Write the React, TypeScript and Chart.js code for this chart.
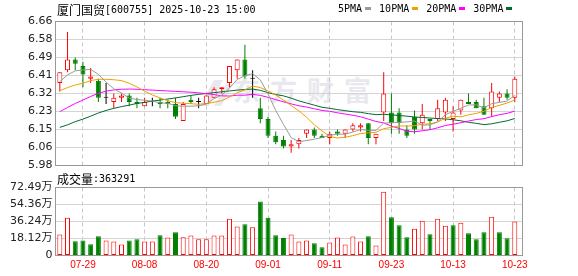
import React, { useEffect, useRef } from "react";
import { Chart, registerables } from "chart.js";
Chart.register(...registerables);

// ---- data ----
const dates = [
  "07-24","07-25","07-28","07-29","07-30","07-31","08-01","08-04","08-05","08-06",
  "08-07","08-08","08-11","08-12","08-13","08-14","08-15","08-18","08-19","08-20",
  "08-21","08-22","08-25","08-26","08-27","08-28","08-29","09-01","09-02","09-03",
  "09-04","09-05","09-08","09-09","09-10","09-11","09-12","09-15","09-16","09-17",
  "09-18","09-19","09-22","09-23","09-24","09-25","09-26","09-29","09-30","10-09",
  "10-10","10-13","10-14","10-15","10-16","10-17","10-20","10-21","10-22","10-23",
];
const opens = [
  6.37,6.43,6.48,6.45,6.39,6.38,6.30,6.28,6.30,6.31,
  6.28,6.26,6.28,6.28,6.28,6.27,6.19,6.29,6.28,6.27,
  6.30,6.34,6.37,6.43,6.48,6.39,6.25,6.20,6.12,6.10,
  6.07,6.08,6.13,6.15,6.12,6.11,6.14,6.13,6.15,6.16,
  6.18,6.11,6.23,6.23,6.23,6.15,6.21,6.18,6.20,6.20,
  6.23,6.20,6.24,6.28,6.28,6.26,6.25,6.30,6.32,6.30,
];
const highs = [
  6.42,6.61,6.49,6.47,6.44,6.39,6.37,6.32,6.32,6.32,
  6.30,6.30,6.30,6.30,6.29,6.30,6.28,6.31,6.30,6.31,
  6.35,6.35,6.45,6.48,6.55,6.43,6.30,6.21,6.14,6.12,
  6.10,6.11,6.15,6.16,6.13,6.14,6.15,6.15,6.18,6.18,
  6.18,6.13,6.42,6.32,6.25,6.17,6.24,6.27,6.20,6.29,
  6.30,6.26,6.29,6.32,6.29,6.30,6.37,6.33,6.34,6.40,
];
const lows = [
  6.33,6.42,6.43,6.35,6.37,6.28,6.27,6.25,6.28,6.26,
  6.25,6.26,6.26,6.25,6.25,6.20,6.19,6.27,6.25,6.27,
  6.30,6.32,6.35,6.39,6.39,6.30,6.18,6.11,6.08,6.06,
  6.04,6.06,6.11,6.11,6.11,6.08,6.12,6.11,6.14,6.14,
  6.08,6.08,6.19,6.13,6.13,6.11,6.13,6.15,6.15,6.19,
  6.19,6.14,6.22,6.27,6.25,6.22,6.21,6.28,6.29,6.28,
];
const closes = [
  6.42,6.48,6.46,6.41,6.40,6.30,6.30,6.30,6.31,6.28,
  6.27,6.28,6.28,6.27,6.27,6.21,6.27,6.28,6.28,6.31,
  6.34,6.35,6.45,6.48,6.40,6.39,6.20,6.12,6.09,6.07,
  6.08,6.10,6.15,6.12,6.11,6.13,6.13,6.15,6.17,6.17,
  6.11,6.13,6.32,6.18,6.18,6.12,6.15,6.22,6.19,6.25,
  6.29,6.23,6.29,6.27,6.25,6.22,6.33,6.32,6.30,6.39,
];
const ma5 = [
  6.376,6.408,6.427,6.431,6.434,6.41,6.374,6.342,6.322,6.298,
  6.292,6.288,6.284,6.276,6.274,6.262,6.26,6.26,6.262,6.27,
  6.296,6.312,6.346,6.386,6.404,6.414,6.384,6.318,6.24,6.174,
  6.112,6.092,6.098,6.104,6.112,6.122,6.128,6.128,6.138,6.15,
  6.146,6.146,6.18,6.182,6.184,6.186,6.19,6.17,6.172,6.186,
  6.22,6.236,6.25,6.266,6.266,6.252,6.272,6.278,6.284,6.312,
];
const ma10 = [
  6.333,6.348,6.36,6.368,6.381,6.387,6.387,6.385,6.381,6.368,
  6.351,6.331,6.313,6.299,6.286,6.277,6.274,6.272,6.269,6.272,
  6.279,6.286,6.303,6.324,6.337,6.355,6.348,6.332,6.313,6.289,
  6.263,6.238,6.208,6.172,6.143,6.117,6.11,6.113,6.121,6.131,
  6.134,6.137,6.154,6.16,6.167,6.166,6.168,6.175,6.177,6.185,
  6.203,6.213,6.21,6.219,6.226,6.236,6.254,6.264,6.275,6.289,
];
const ma20 = [
  6.234,6.254,6.273,6.289,6.306,6.321,6.331,6.337,6.34,6.341,
  6.34,6.338,6.336,6.334,6.332,6.33,6.328,6.326,6.323,6.319,
  6.315,6.309,6.308,6.312,6.312,6.316,6.311,6.302,6.291,6.281,
  6.271,6.262,6.256,6.248,6.24,6.236,6.229,6.223,6.217,6.21,
  6.199,6.188,6.181,6.166,6.155,6.142,6.139,6.144,6.149,6.158,
  6.169,6.175,6.182,6.19,6.197,6.201,6.211,6.22,6.226,6.237,
];
const ma30 = [
  6.16,6.172,6.187,6.199,6.213,6.228,6.24,6.25,6.258,6.265,
  6.273,6.278,6.284,6.289,6.294,6.299,6.305,6.311,6.316,6.32,
  6.324,6.328,6.332,6.336,6.339,6.341,6.335,6.324,6.315,6.309,
  6.298,6.285,6.275,6.265,6.255,6.25,6.244,6.239,6.234,6.231,
  6.225,6.22,6.222,6.219,6.216,6.213,6.209,6.207,6.204,6.202,
  6.2,6.196,6.191,6.184,6.179,6.173,6.177,6.184,6.191,6.202,
];
// volume in 万 (10k lots)
const volumes = [
  22.3,40.3,15.2,15.9,12.0,20.5,15.9,14.9,11.7,15.9,
  17.3,14.9,14.9,21.6,19.1,24.8,19.4,21.2,17.3,17.3,
  21.2,21.2,39.3,30.8,33.2,30.1,57.6,40.3,21.6,18.7,
  22.3,14.9,15.9,13.1,8.8,13.8,19.1,11.7,20.2,14.9,
  20.5,10.6,67.9,40.7,32.2,19.4,28.6,37.1,22.6,39.3,
  31.8,32.2,35.0,23.7,17.3,24.8,41.4,24.8,18.4,36.33,
];
// 1 = up day (red), 0 = down day (green) for the volume bars
const volumeUp = [
  1,1,0,0,0,0,1,1,1,0,
  0,1,1,0,1,0,1,1,1,1,
  1,1,1,1,0,1,0,0,0,0,
  1,1,1,0,0,1,1,1,1,1,
  0,1,1,0,0,0,1,1,0,1,
  1,0,1,0,0,0,1,0,0,1,
];
const priceTicks = [5.98, 6.065, 6.15, 6.235, 6.32, 6.405, 6.49, 6.575, 6.66];
const priceTickLabels = ["5.98","6.06","6.15","6.23","6.32","6.41","6.49","6.58","6.66"];
const volumeTicks = [0, 18.12, 36.24, 54.36, 72.49];
const volumeTickLabels = ["0","18.12万","36.24万","54.36万","72.49万"];
const dateTickIndex = [3, 11, 19, 27, 35, 43, 51, 59];
const maNames = ["5PMA", "10PMA", "20PMA", "30PMA"];
const stockTitle = "厦门国贸";
const stockCode = "[600755] 2025-10-23 15:00";
const volumeTitle = "成交量";
const lastVolume = "363291";

// ---- styles ----
const RED = "#ff0000";
const GREEN = "#008000";
const BLACK = "#000000";
const MA_COLORS = ["#9a9a9a", "#f0a000", "#ff00ff", "#006a30"];
const GRID = "#d4d4d4";
const VGRID = "#c8c8c8";
const FRAME = "#999999";
const MONO = "'DejaVu Sans Mono', monospace";
const CJK = "'Noto Sans CJK SC', sans-serif";
const TICKFONT = { family: "'DejaVu Sans', 'Noto Sans CJK SC', sans-serif", size: 11 };

const framePlugin = {
  id: "frame",
  afterDraw(chart: any) {
    const { ctx, chartArea: a } = chart;
    ctx.save();
    ctx.strokeStyle = FRAME;
    ctx.lineWidth = 1;
    ctx.strokeRect(a.left, a.top, a.right - a.left, a.bottom - a.top);
    ctx.restore();
  },
};

function xScale(showLabels: boolean, height: number) {
  return {
    type: "linear",
    min: -0.56,
    max: 60,
    offset: false,
    afterBuildTicks: (s: any) => {
      s.ticks = dateTickIndex.map((v) => ({ value: v }));
    },
    afterFit: (s: any) => {
      s.height = height;
    },
    ticks: {
      display: showLabels,
      autoSkip: false,
      maxRotation: 0,
      minRotation: 0,
      padding: 4,
      color: RED,
      font: { family: "'Liberation Sans', sans-serif", size: 10 },
      callback: (v: any) => dates[v as number],
    },
    grid: { color: VGRID, drawTicks: false, offset: false },
    border: { display: false, dash: [4, 3] },
  };
}

function yScale(min: number, max: number, ticks: number[], labels: string[]) {
  return {
    type: "linear",
    min,
    max,
    beginAtZero: false,
    afterBuildTicks: (s: any) => {
      s.ticks = ticks.map((v) => ({ value: v }));
    },
    afterFit: (s: any) => {
      s.width = 55.5;
    },
    ticks: {
      autoSkip: false,
      padding: 3,
      color: "#222",
      font: TICKFONT,
      callback: (v: any) => {
        const k = ticks.findIndex((t) => Math.abs(t - v) < 1e-6);
        return k >= 0 ? labels[k] : "";
      },
    },
    grid: { color: GRID, drawTicks: false },
    border: { display: false },
  };
}

export default function App() {
  const priceRef = useRef<HTMLCanvasElement>(null);
  const volRef = useRef<HTMLCanvasElement>(null);

  useEffect(() => {
    const idx = dates.map((_, i) => i);
    const candleColor = idx.map((i) =>
      closes[i] > opens[i] ? RED : closes[i] < opens[i] ? GREEN : BLACK
    );
    const bodyFill = idx.map((i) => (closes[i] > opens[i] ? "#ffffff" : candleColor[i]));
    const mas = [ma5, ma10, ma20, ma30];

    const common = {
      responsive: false,
      animation: false,
      devicePixelRatio: 1,
      events: [],
      plugins: { legend: { display: false }, tooltip: { enabled: false } },
    };

    const price = new Chart(priceRef.current as HTMLCanvasElement, {
      type: "bar",
      data: {
        datasets: [
          {
            type: "bar",
            data: idx.map((i) => ({ x: i, y: [lows[i], highs[i]] })),
            backgroundColor: candleColor,
            borderWidth: 0,
            maxBarThickness: 1,
            grouped: false,
            order: 3,
          },
          {
            type: "bar",
            data: idx.map((i) => ({ x: i, y: [opens[i], closes[i]] })),
            backgroundColor: bodyFill,
            borderColor: candleColor,
            borderWidth: 1,
            borderSkipped: false,
            maxBarThickness: 5,
            minBarLength: 1,
            grouped: false,
            order: 2,
          },
          ...mas.map((m, k) => ({
            type: "line",
            data: idx.map((i) => ({ x: i, y: m[i] })),
            borderColor: MA_COLORS[k],
            borderWidth: 1,
            pointRadius: 0,
            fill: false,
            tension: 0,
            order: 1,
          })),
        ],
      } as any,
      options: {
        ...common,
        layout: { autoPadding: false, padding: { left: 0, top: 21.5, right: 55.5, bottom: 14.5 } },
        scales: {
          x: xScale(false, 0),
          y: yScale(5.98, 6.66, priceTicks, priceTickLabels),
        },
      } as any,
      plugins: [framePlugin],
    });

    const vol = new Chart(volRef.current as HTMLCanvasElement, {
      type: "bar",
      data: {
        datasets: [
          {
            data: idx.map((i) => ({ x: i, y: volumes[i] })),
            backgroundColor: idx.map((i) => (volumeUp[i] ? "#ffffff" : GREEN)),
            borderColor: idx.map((i) => (volumeUp[i] ? RED : GREEN)),
            borderWidth: 1,
            borderSkipped: false,
            maxBarThickness: 5,
            grouped: false,
          },
        ],
      } as any,
      options: {
        ...common,
        layout: { autoPadding: false, padding: { left: 0, top: 11.5, right: 55.5, bottom: 0 } },
        scales: {
          x: xScale(true, 20.5),
          y: yScale(0, 72.49, volumeTicks, volumeTickLabels),
        },
      } as any,
      plugins: [framePlugin],
    });

    return () => {
      price.destroy();
      vol.destroy();
    };
  }, []);

  return (
    <div
      style={{
        position: "fixed",
        left: 0,
        top: 0,
        width: 578,
        height: 276,
        background: "#fff",
        overflow: "hidden",
      }}
    >
      {/* watermark */}
      <div
        style={{
          position: "absolute",
          left: 207,
          top: 80,
          width: 9,
          height: 26,
          background: "#e8e8ee",
          transform: "skewX(-28deg)",
        }}
      />
      <div
        style={{
          position: "absolute",
          left: 220,
          top: 84,
          width: 7,
          height: 22,
          background: "#e8e8ee",
          transform: "skewX(-28deg)",
        }}
      />
      <div
        style={{
          position: "absolute",
          left: 233,
          top: 73,
          font: `bold 27px ${CJK}`,
          lineHeight: "34px",
          letterSpacing: "10px",
          color: "#e8e8ee",
          whiteSpace: "nowrap",
        }}
      >
        东方财富
      </div>

      <canvas
        ref={priceRef}
        width={578}
        height={180}
        style={{ position: "absolute", left: 0, top: 0, width: 578, height: 180 }}
      />
      <canvas
        ref={volRef}
        width={578}
        height={100}
        style={{ position: "absolute", left: 0, top: 176, width: 578, height: 100 }}
      />

      {/* title */}
      <div
        style={{
          position: "absolute",
          left: 57,
          top: 1,
          height: 14,
          lineHeight: "14px",
          whiteSpace: "nowrap",
          color: "#000",
        }}
      >
        <span style={{ font: `12px ${CJK}`, verticalAlign: "middle" }}>{stockTitle}</span>
        <span style={{ font: `10px ${MONO}`, verticalAlign: "middle" }}>{stockCode}</span>
      </div>

      {/* legend */}
      <div
        style={{
          position: "absolute",
          left: 338,
          top: 1,
          height: 14,
          display: "flex",
          alignItems: "center",
          whiteSpace: "nowrap",
        }}
      >
        {maNames.map((n, k) => (
          <div key={n} style={{ display: "flex", alignItems: "center", marginRight: 8 }}>
            <span style={{ font: `10px ${MONO}`, color: "#000" }}>{n}</span>
            <span
              style={{
                display: "inline-block",
                width: 6,
                height: 3,
                marginLeft: 3,
                background: MA_COLORS[k],
              }}
            />
          </div>
        ))}
      </div>

      {/* volume title */}
      <div
        style={{
          position: "absolute",
          left: 57,
          top: 170,
          height: 14,
          lineHeight: "14px",
          whiteSpace: "nowrap",
          color: "#000",
        }}
      >
        <span style={{ font: `12px ${CJK}`, verticalAlign: "middle" }}>{volumeTitle}</span>
        <span style={{ font: `10px ${MONO}`, verticalAlign: "middle" }}>:{lastVolume}</span>
      </div>
    </div>
  );
}
